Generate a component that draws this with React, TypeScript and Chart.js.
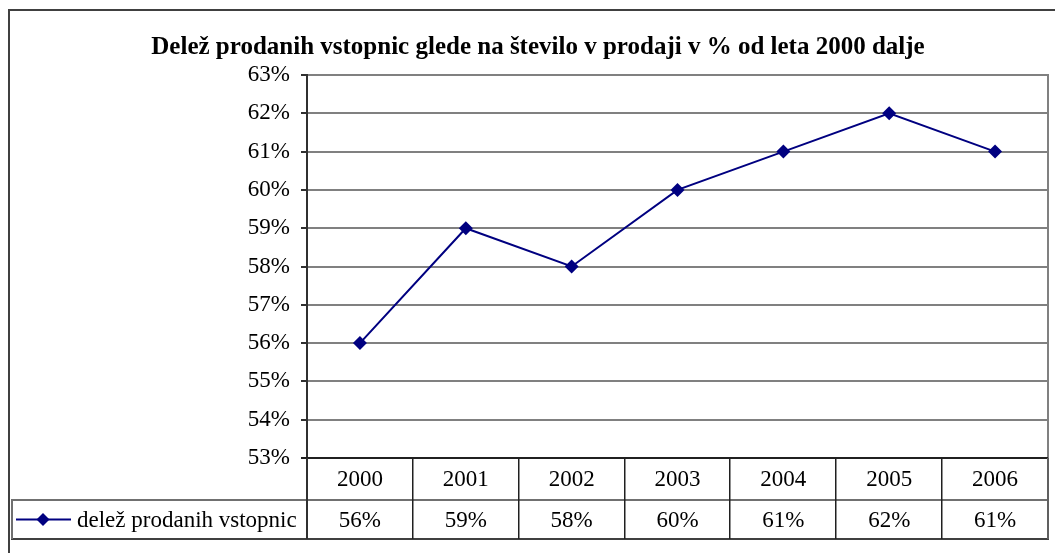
import React, { useEffect, useRef } from 'react';
import { Chart, registerables } from 'chart.js';

Chart.register(...registerables);

const TITLE = 'Delež prodanih vstopnic glede na število v prodaji v % od leta 2000 dalje';
const SERIES_LABEL = 'delež prodanih vstopnic';
const YEARS = ['2000', '2001', '2002', '2003', '2004', '2005', '2006'];
const SHARE = [56, 59, 58, 60, 61, 62, 61];
const Y_MIN = 53;
const Y_MAX = 63;
const Y_STEP = 1;

const SERIF = '"Liberation Serif", "Times New Roman", serif';
const NAVY = '#000080';

const framePlugin = {
  id: 'frame',
  beforeDraw(chart: any) {
    const { ctx, width, height } = chart;
    ctx.save();
    ctx.fillStyle = '#ffffff';
    ctx.fillRect(0, 0, width, height);
    ctx.fillStyle = '#404040';
    ctx.fillRect(8, 9, width - 8, 2);
    ctx.fillRect(8, 9, 2, height - 9);
    ctx.restore();
  },
};

const tablePlugin = {
  id: 'dataTable',
  afterDraw(chart: any) {
    const { ctx, chartArea: a } = chart;
    const x = chart.scales.x;
    const n = YEARS.length;
    const bounds: number[] = [a.left];
    for (let i = 0; i < n - 1; i++) {
      bounds.push(Math.round((x.getPixelForValue(i) + x.getPixelForValue(i + 1)) / 2));
    }
    bounds.push(a.right);
    const r0 = a.bottom;
    const r1 = a.bottom + 42;
    const r2 = a.bottom + 81;
    const legendLeft = 11;

    ctx.save();
    // right border of plot area
    ctx.fillStyle = '#808080';
    ctx.fillRect(a.right - 1, a.top - 1, 2, r0 - a.top + 1);
    // horizontal table lines
    ctx.fillStyle = '#202020';
    ctx.fillRect(a.left - 6, r0 - 1, a.right - a.left + 6, 2);
    ctx.fillStyle = '#707070';
    ctx.fillRect(legendLeft, r1 - 1, a.right - legendLeft, 2);
    ctx.fillStyle = '#404040';
    ctx.fillRect(legendLeft, r2 - 1, a.right - legendLeft + 1, 2);
    // vertical lines
    ctx.fillStyle = '#303030';
    ctx.fillRect(a.left - 1, r0, 2, r2 - r0);
    ctx.fillStyle = '#202020';
    for (let i = 1; i < bounds.length - 1; i++) {
      ctx.fillRect(bounds[i] - 1, r0, 1.5, r2 - r0);
    }
    ctx.fillStyle = '#606060';
    ctx.fillRect(a.right - 1, r0, 2, r2 - r0);
    ctx.fillStyle = '#707070';
    ctx.fillRect(legendLeft, r1, 2, r2 - r1);

    // texts
    ctx.fillStyle = '#000000';
    ctx.font = '23px ' + SERIF;
    ctx.textAlign = 'center';
    ctx.textBaseline = 'middle';
    for (let i = 0; i < n; i++) {
      const cx = x.getPixelForValue(i);
      ctx.fillText(YEARS[i], cx, (r0 + r1) / 2 + 1);
      ctx.fillText(SHARE[i] + '%', cx, (r1 + r2) / 2 + 1);
    }
    // legend key
    const ly = (r1 + r2) / 2;
    ctx.strokeStyle = NAVY;
    ctx.lineWidth = 2;
    ctx.beginPath();
    ctx.moveTo(16, ly);
    ctx.lineTo(71, ly);
    ctx.stroke();
    ctx.fillStyle = NAVY;
    ctx.beginPath();
    ctx.moveTo(43, ly - 6.5);
    ctx.lineTo(49.5, ly);
    ctx.lineTo(43, ly + 6.5);
    ctx.lineTo(36.5, ly);
    ctx.closePath();
    ctx.fill();
    ctx.fillStyle = '#000000';
    ctx.textAlign = 'left';
    ctx.fillText(SERIES_LABEL, 77, ly + 1);
    ctx.restore();
  },
};

export default function App() {
  const ref = useRef<HTMLCanvasElement | null>(null);

  useEffect(() => {
    if (!ref.current) return;
    const chart = new Chart(ref.current, {
      type: 'line',
      data: {
        labels: YEARS,
        datasets: [
          {
            label: SERIES_LABEL,
            data: SHARE,
            borderColor: NAVY,
            backgroundColor: NAVY,
            borderWidth: 2,
            pointStyle: 'rectRot',
            pointRadius: 7,
            pointBorderWidth: 0,
            pointBackgroundColor: NAVY,
            tension: 0,
            clip: false as any,
          },
        ],
      },
      options: {
        animation: false,
        responsive: false,
        devicePixelRatio: 1,
        layout: { padding: { left: 27, right: 6, top: 32.5, bottom: 95 } },
        plugins: {
          legend: { display: false },
          tooltip: { enabled: false },
          title: {
            display: true,
            text: TITLE,
            color: '#000000',
            font: { family: SERIF, size: 25, weight: 'bold', lineHeight: 1.2 },
            padding: { top: 0, bottom: 12.5 },
          },
        },
        scales: {
          x: {
            type: 'category',
            offset: true,
            display: false,
          },
          y: {
            min: Y_MIN,
            max: Y_MAX,
            afterFit: (scale: any) => {
              scale.width = 280;
            },
            ticks: {
              stepSize: Y_STEP,
              color: '#000000',
              padding: 11,
              font: { family: SERIF, size: 23 },
              callback: (v: any) => v + '%',
            },
            grid: {
              color: '#808080',
              lineWidth: 2,
              tickLength: 6,
              tickColor: '#303030',
            },
            border: { color: '#303030', width: 2 },
          },
        },
      },
      plugins: [framePlugin, tablePlugin],
    });
    return () => chart.destroy();
  }, []);

  return (
    <canvas
      ref={ref}
      width={1055}
      height={553}
      style={{ position: 'absolute', left: 0, top: 0, width: 1055, height: 553 }}
    />
  );
}
